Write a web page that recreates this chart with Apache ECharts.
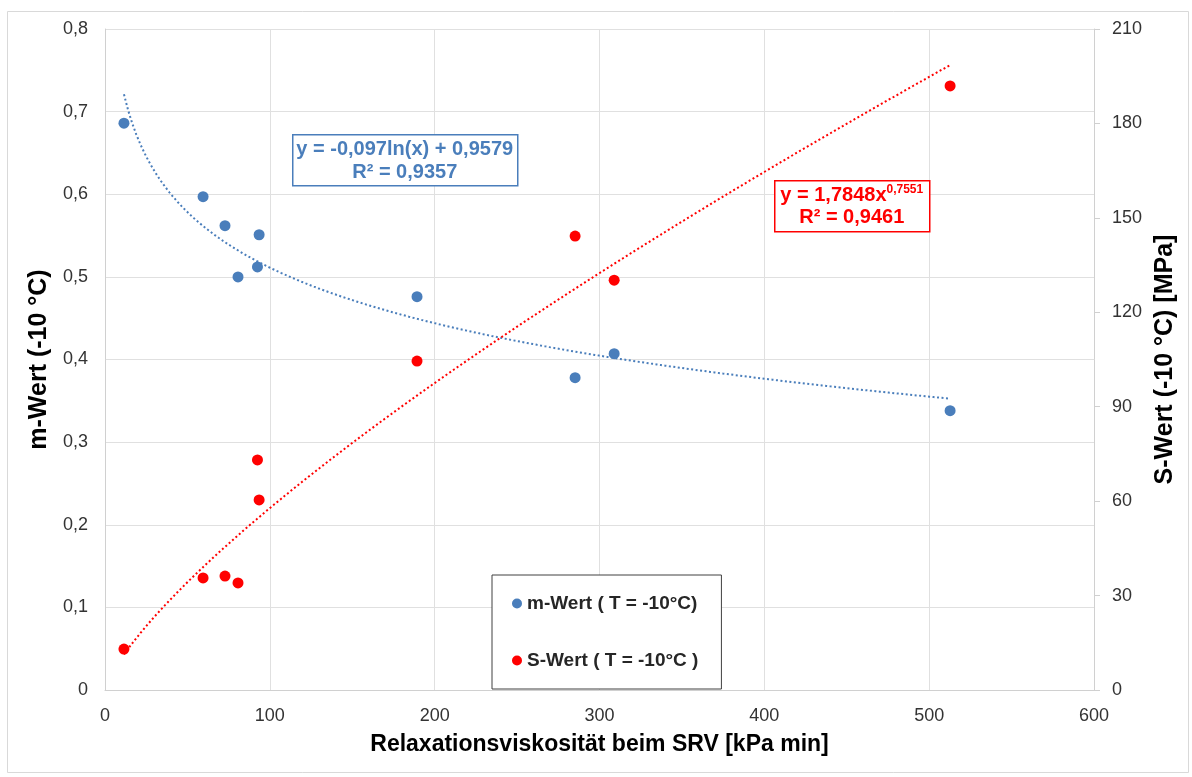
<!DOCTYPE html>
<html>
<head>
<meta charset="utf-8">
<script src="https://cdn.jsdelivr.net/npm/echarts@6/dist/echarts.min.js"></script>
<style>
  html, body { margin: 0; padding: 0; background: #ffffff; }
  #chart { width: 1192px; height: 777px; }
</style>
</head>
<body>
<div id="chart"></div>
<script>
  // Relaxationsviskosität [kPa min]
  var viskositaet = [11.5, 59.5, 72.8, 80.7, 92.5, 93.5, 189.3, 285.2, 308.9, 512.7];
  // m-Wert (-10 °C)
  var mWert = [0.686, 0.597, 0.562, 0.500, 0.512, 0.551, 0.476, 0.378, 0.407, 0.338];
  // S-Wert (-10 °C) [MPa]
  var sWert = [13.0, 35.6, 36.2, 34.0, 73.1, 60.4, 104.5, 144.2, 130.2, 191.9];

  // Trendlinien aus den angegebenen Gleichungen
  var mFit = { a: -0.097, b: 0.9579 };   // y = a ln(x) + b
  var sFit = { a: 1.7848, b: 0.7551 };   // y = a x^b
  var trendVon = 11.5, trendBis = 512.7;

  var xTicks = [0, 100, 200, 300, 400, 500, 600];

  var blau = '#4a7ebb';
  var rot = '#ff0000';
  var schrift = 'Liberation Sans, Arial, sans-serif';

  function pairs(xs, ys) {
    return xs.map(function (x, i) { return [x, ys[i]]; });
  }

  var mTrend = [], sTrend = [];
  for (var i = 0; i <= 200; i++) {
    var x = trendVon + (trendBis - trendVon) * i / 200;
    mTrend.push([x, mFit.a * Math.log(x) + mFit.b]);
    sTrend.push([x, sFit.a * Math.pow(x, sFit.b)]);
  }

  var komma = function (v) { return String(v).replace('.', ','); };
  var tickFont = { color: '#333333', fontSize: 18, fontFamily: schrift };
  var nameFont = { color: '#000000', fontSize: 25, fontWeight: 'bold', fontFamily: schrift };

  var chart = echarts.init(document.getElementById('chart'));
  chart.setOption({
    backgroundColor: '#ffffff',
    animation: false,
    grid: { left: 105, right: 98, top: 29, bottom: 87 },
    legend: {
      orient: 'vertical',
      left: 492,
      top: 575,
      padding: [19, 23, 19, 20],
      itemGap: 38,
      itemWidth: 10,
      itemHeight: 10,
      borderColor: '#404040',
      borderWidth: 1,
      backgroundColor: '#ffffff',
      data: [
        { name: 'm-Wert ( T = -10°C)', icon: 'circle' },
        { name: 'S-Wert ( T = -10°C )', icon: 'circle' }
      ],
      textStyle: { color: '#262626', fontSize: 19, fontWeight: 'bold', fontFamily: schrift }
    },
    xAxis: {
      type: 'value',
      min: xTicks[0],
      max: xTicks[xTicks.length - 1],
      interval: 100,
      name: 'Relaxationsviskosität beim SRV [kPa min]',
      nameLocation: 'middle',
      nameGap: 43,
      nameTextStyle: Object.assign({}, nameFont, { fontSize: 23 }),
      axisLine: { lineStyle: { color: '#d0d0d0' } },
      axisTick: { show: false },
      axisLabel: Object.assign({ margin: 17 }, tickFont),
      splitLine: { lineStyle: { color: '#e0e0e0' } }
    },
    yAxis: [
      {
        type: 'value',
        min: 0,
        max: 0.8,
        interval: 0.1,
        name: 'm-Wert (-10 °C)',
        nameLocation: 'middle',
        nameGap: 48,
        nameTextStyle: nameFont,
        axisLine: { show: true, lineStyle: { color: '#d0d0d0' } },
        axisTick: { show: false },
        axisLabel: Object.assign({ margin: 17, formatter: komma }, tickFont),
        splitLine: { lineStyle: { color: '#e0e0e0' } }
      },
      {
        type: 'value',
        min: 0,
        max: 210,
        interval: 30,
        name: 'S-Wert (-10 °C) [MPa]',
        nameLocation: 'middle',
        nameGap: 58,
        nameRotate: 90,
        nameTextStyle: nameFont,
        axisLine: { show: true, lineStyle: { color: '#d0d0d0' } },
        axisTick: { show: true, length: 6, lineStyle: { color: '#d0d0d0' } },
        axisLabel: Object.assign({ margin: 18 }, tickFont),
        splitLine: { show: false }
      }
    ],
    series: [
      {
        name: 'm-Trend',
        type: 'line',
        data: mTrend,
        showSymbol: false,
        silent: true,
        lineStyle: { color: blau, width: 2, type: [2, 2.5] },
        z: 2
      },
      {
        name: 'S-Trend',
        type: 'line',
        yAxisIndex: 1,
        data: sTrend,
        showSymbol: false,
        silent: true,
        lineStyle: { color: rot, width: 2, type: [2, 2.5] },
        z: 2
      },
      {
        name: 'm-Wert ( T = -10°C)',
        type: 'scatter',
        data: pairs(viskositaet, mWert),
        symbolSize: 11,
        itemStyle: { color: blau, opacity: 1 },
        z: 3
      },
      {
        name: 'S-Wert ( T = -10°C )',
        type: 'scatter',
        yAxisIndex: 1,
        data: pairs(viskositaet, sWert),
        symbolSize: 11,
        itemStyle: { color: rot, opacity: 1 },
        z: 3
      }
    ],
    graphic: [
      {
        type: 'rect',
        left: 5, top: 9,
        shape: { width: 1181, height: 761 },
        style: { fill: 'none', stroke: '#d9d9d9', lineWidth: 1 },
        silent: true, z: -1
      },
      {
        type: 'group',
        left: 292, top: 134,
        z: 50,
        children: [
          { type: 'rect', z: 50, shape: { width: 225, height: 51 }, style: { fill: '#ffffff', stroke: blau, lineWidth: 1.5 } },
          { type: 'text', z: 51, x: 112, y: 15, style: { text: 'y = -0,097ln(x) + 0,9579', fill: blau, font: 'bold 20px ' + schrift, textAlign: 'center', textVerticalAlign: 'middle' } },
          { type: 'text', z: 51, x: 112, y: 38, style: { text: 'R² = 0,9357', fill: blau, font: 'bold 20px ' + schrift, textAlign: 'center', textVerticalAlign: 'middle' } }
        ]
      },
      {
        type: 'group',
        left: 774, top: 180,
        z: 50,
        children: [
          { type: 'rect', z: 50, shape: { width: 155, height: 51 }, style: { fill: '#ffffff', stroke: rot, lineWidth: 1.5 } },
          {
            type: 'text', z: 51, x: 77, y: 15,
            style: {
              text: '{a|y = 1,7848x}{b|0,7551}',
              textAlign: 'center', textVerticalAlign: 'middle',
              rich: {
                a: { fill: rot, fontSize: 20, fontWeight: 'bold', fontFamily: schrift },
                b: { fill: rot, fontSize: 12, fontWeight: 'bold', fontFamily: schrift, padding: [0, 0, 12, 0] }
              }
            }
          },
          { type: 'text', z: 51, x: 77, y: 37, style: { text: 'R² = 0,9461', fill: rot, font: 'bold 20px ' + schrift, textAlign: 'center', textVerticalAlign: 'middle' } }
        ]
      }
    ]
  });
</script>
</body>
</html>
